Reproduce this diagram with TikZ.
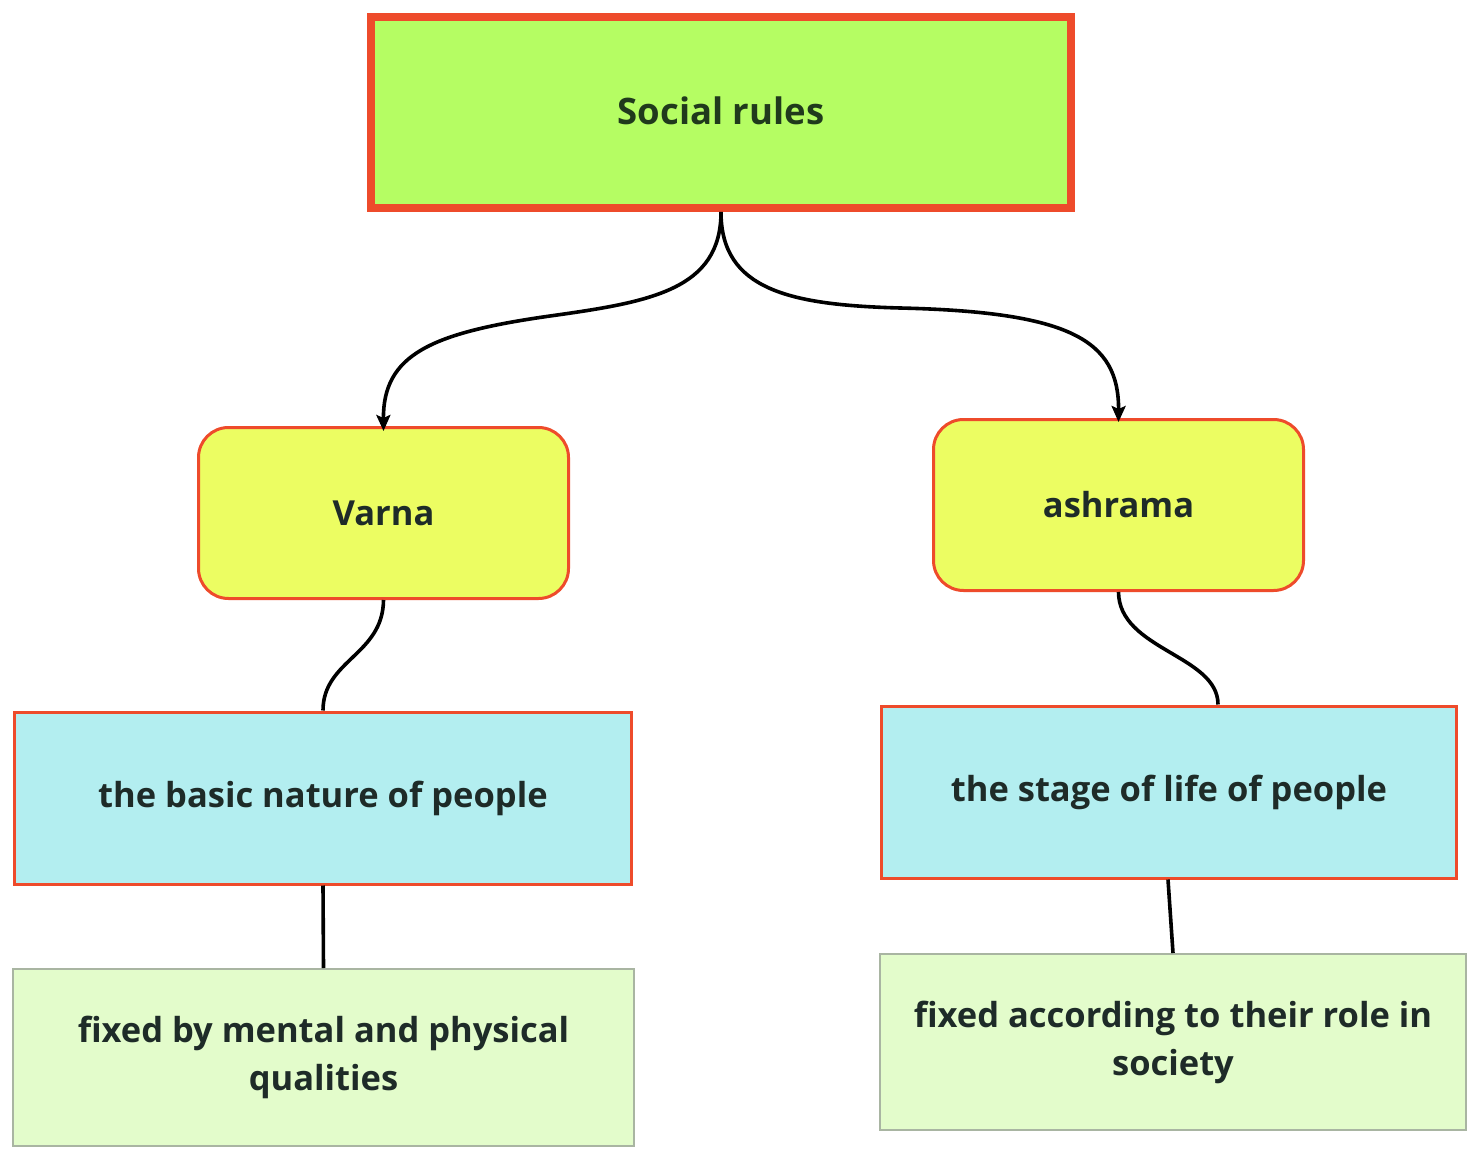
\documentclass[tikz,border=0pt]{standalone}
\usepackage{fontspec}
\setmainfont{Open Sans}
\usetikzlibrary{arrows.meta}
\definecolor{redb}{HTML}{EE4B2B}
\definecolor{topfill}{HTML}{B5FD63}
\definecolor{yelfill}{HTML}{ECFD62}
\definecolor{cyanfill}{HTML}{B3EEF0}
\definecolor{palefill}{HTML}{E3FCCB}
\definecolor{graybord}{HTML}{A9B5A2}
\definecolor{txt}{HTML}{1E2B28}
\definecolor{toptxt}{HTML}{203A1C}
\tikzset{
  base/.style={inner sep=0pt, align=center, text=txt, font=\fontsize{34.5}{48}\selectfont\bfseries},
  topbox/.style={base, draw=redb, line width=8pt, fill=topfill, minimum width=700pt, minimum height=191pt, text=toptxt, font=\fontsize{36.5}{48}\selectfont\bfseries},
  yelbox/.style={base, draw=redb, line width=3pt, fill=yelfill, rounded corners=30pt, minimum width=370pt, minimum height=171pt},
  cyanbox/.style={base, draw=redb, line width=3pt, fill=cyanfill, minimum height=172pt},
  palebox/.style={base, draw=graybord, line width=2pt, fill=palefill, minimum height=177pt},
  conn/.style={line width=3.6pt, black},
  arr/.style={conn, -{Stealth[length=16pt,width=14pt,inset=3pt]}}
}
\begin{document}
\begin{tikzpicture}[x=1pt,y=-1pt]
\useasboundingbox[fill=white] (0,0) rectangle (1468,1150);
\node[topbox] (top) at (721,112.5) {\raisebox{4pt}{Social rules}};
\node[yelbox] (varna) at (383.5,513) {Varna};
\node[yelbox] (ashrama) at (1118.5,505) {ashrama};
\node[cyanbox, minimum width=617pt] (basic) at (323,798) {the basic nature of people};
\node[cyanbox, minimum width=575pt] (stage) at (1169,792) {the stage of life of people};
\node[palebox, minimum width=621pt] (fixa) at (323.5,1057.5) {fixed by mental and physical\\qualities};
\node[palebox, minimum width=586pt, minimum height=176pt] (fixb) at (1173,1042) {fixed according to their role in\\society};
\draw[arr] (top.south) .. controls (721,290) and (650,302) .. (550,316)
  .. controls (430,333) and (383,355) .. ([yshift=-5pt]varna.north);
\draw[arr] (top.south) .. controls (721,290) and (790,305) .. (900,308)
  .. controls (1070,312) and (1119,340) .. ([yshift=-4pt]ashrama.north);
\draw[conn] (varna.south) .. controls (383,655) and (323,660) .. (basic.north);
\draw[conn] (ashrama.south) .. controls (1119,650) and (1218,655) .. ([xshift=49pt]stage.north);
\draw[conn] (basic.south) -- (fixa.north);
\draw[conn] ([xshift=-1pt]stage.south) -- (fixb.north);
\end{tikzpicture}
\end{document}
